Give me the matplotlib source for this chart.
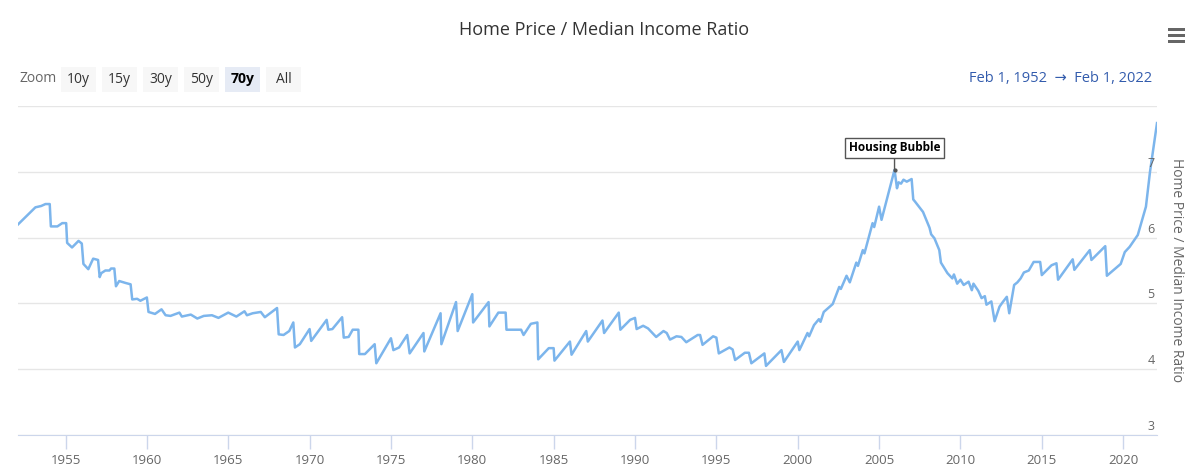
import matplotlib.pyplot as plt
from matplotlib.patches import Rectangle
from matplotlib.transforms import blended_transform_factory

# Home price / median income ratio
years = [
    1952.08, 1953.15, 1953.5, 1953.77, 1954.03, 1954.1, 1954.5, 1954.8, 1955.04, 1955.1,
    1955.4, 1955.8, 1956.0, 1956.1, 1956.4, 1956.7, 1957.0, 1957.1, 1957.2, 1957.45,
    1957.7, 1957.8, 1958.0, 1958.1, 1958.3, 1958.7, 1959.0, 1959.1, 1959.4, 1959.6,
    1960.0, 1960.1, 1960.5, 1960.9, 1961.15, 1961.45, 1962.0, 1962.15, 1962.7, 1963.1,
    1963.5, 1964.0, 1964.4, 1965.0, 1965.5, 1966.0, 1966.15, 1966.5, 1967.0, 1967.25,
    1968.0, 1968.1, 1968.4, 1968.75, 1969.0, 1969.1, 1969.4, 1970.0, 1970.1, 1971.05,
    1971.15, 1971.4, 1972.0, 1972.1, 1972.4, 1972.65, 1973.0, 1973.05, 1973.4, 1974.0,
    1974.1, 1975.0, 1975.15, 1975.5, 1976.0, 1976.15, 1977.0, 1977.05, 1978.05, 1978.1,
    1979.0, 1979.1, 1980.0, 1980.05, 1981.0, 1981.05, 1981.6, 1982.05, 1982.1, 1983.0,
    1983.15, 1983.6, 1984.0, 1984.05, 1984.7, 1985.0, 1985.05, 1986.0, 1986.1, 1987.0,
    1987.1, 1988.0, 1988.1, 1989.0, 1989.1, 1989.7, 1990.0, 1990.1, 1990.5, 1990.8,
    1991.3, 1991.75, 1991.95, 1992.15, 1992.55, 1992.85, 1993.15, 1993.85, 1994.0, 1994.15,
    1994.8, 1995.0, 1995.15, 1995.8, 1996.0, 1996.15, 1996.75, 1997.0, 1997.15, 1997.95,
    1998.05, 1999.0, 1999.15, 2000.0, 2000.1, 2000.6, 2000.7, 2001.0, 2001.3, 2001.4,
    2001.6, 2002.15, 2002.55, 2002.65, 2003.0, 2003.2, 2003.6, 2003.7, 2004.0, 2004.1,
    2004.6, 2004.7, 2005.0, 2005.15, 2005.95, 2006.1, 2006.2, 2006.35, 2006.5, 2006.7,
    2007.0, 2007.1, 2007.2, 2007.7, 2007.8, 2008.1, 2008.2, 2008.4, 2008.7, 2008.8,
    2009.2, 2009.5, 2009.6, 2009.8, 2010.0, 2010.2, 2010.5, 2010.7, 2010.8, 2011.1,
    2011.3, 2011.5, 2011.6, 2011.9, 2012.1, 2012.4, 2012.6, 2012.85, 2013.0, 2013.3,
    2013.5, 2013.7, 2013.9, 2014.2, 2014.5, 2014.9, 2015.0, 2015.6, 2015.9, 2016.0,
    2016.9, 2017.0, 2017.95, 2018.05, 2018.9, 2019.0, 2019.85, 2020.1, 2020.4, 2020.9,
    2021.4, 2021.65, 2022.08,
]
ratio = [
    6.20, 6.46, 6.48, 6.51, 6.51, 6.17, 6.17, 6.22, 6.22, 5.92,
    5.85, 5.95, 5.91, 5.60, 5.52, 5.68, 5.66, 5.40, 5.46, 5.50,
    5.50, 5.53, 5.53, 5.26, 5.34, 5.31, 5.29, 5.06, 5.07, 5.04,
    5.09, 4.87, 4.84, 4.91, 4.82, 4.81, 4.86, 4.80, 4.83, 4.77,
    4.81, 4.82, 4.78, 4.86, 4.80, 4.88, 4.82, 4.85, 4.87, 4.79,
    4.93, 4.53, 4.52, 4.58, 4.71, 4.33, 4.38, 4.61, 4.43, 4.75,
    4.60, 4.61, 4.79, 4.48, 4.49, 4.60, 4.60, 4.23, 4.23, 4.38,
    4.09, 4.47, 4.29, 4.33, 4.52, 4.24, 4.55, 4.27, 4.85, 4.38,
    5.02, 4.58, 5.14, 4.71, 5.02, 4.65, 4.86, 4.86, 4.60, 4.60,
    4.52, 4.69, 4.71, 4.15, 4.32, 4.32, 4.13, 4.42, 4.22, 4.58,
    4.42, 4.74, 4.55, 4.86, 4.60, 4.75, 4.78, 4.61, 4.66, 4.62,
    4.49, 4.58, 4.55, 4.45, 4.50, 4.49, 4.41, 4.52, 4.52, 4.37,
    4.50, 4.48, 4.24, 4.33, 4.30, 4.14, 4.25, 4.25, 4.09, 4.24,
    4.05, 4.29, 4.11, 4.42, 4.29, 4.55, 4.50, 4.67, 4.76, 4.72,
    4.87, 4.99, 5.25, 5.22, 5.42, 5.32, 5.62, 5.57, 5.81, 5.76,
    6.22, 6.16, 6.47, 6.27, 7.03, 6.75, 6.84, 6.82, 6.88, 6.85,
    6.89, 6.58, 6.55, 6.39, 6.33, 6.15, 6.05, 5.99, 5.81, 5.62,
    5.46, 5.38, 5.44, 5.30, 5.36, 5.28, 5.33, 5.20, 5.30, 5.19,
    5.08, 5.11, 4.98, 5.03, 4.73, 4.95, 5.02, 5.10, 4.85, 5.28,
    5.32, 5.38, 5.47, 5.50, 5.63, 5.63, 5.43, 5.58, 5.61, 5.36,
    5.67, 5.51, 5.81, 5.66, 5.87, 5.42, 5.60, 5.78, 5.86, 6.04,
    6.47, 7.00, 7.74,
]

x_ticks = list(range(1955, 2021, 5))
y_ticks = [3, 4, 5, 6, 7]
y_grid = [3, 4, 5, 6, 7, 8]
zoom_buttons = ["10y", "15y", "30y", "50y", "70y", "All"]
selected_button = "70y"
peak_year, peak_value = 2005.95, 7.03

W, H = 1200, 473
FONT = ["Open Sans", "DejaVu Sans"]
plt.rcParams["font.family"] = FONT


def px(x, y):
    # pixel position (from top-left) -> figure fraction
    return x / W, 1 - y / H


fig = plt.figure(figsize=(W / 100, H / 100), dpi=100)
left, top, right, bottom = 18, 106, 1157, 435
ax = fig.add_axes([left / W, 1 - bottom / H, (right - left) / W, (bottom - top) / H])

ax.plot(years, ratio, color="#7cb5ec", linewidth=1.8, solid_joinstyle="round", zorder=3)
ax.set_xlim(1952.08, 2022.08)
ax.set_ylim(3, 8)

# grid and axes styling
for g in y_grid:
    ax.axhline(g, color="#e6e6e6", linewidth=1, zorder=1)
for s in ["top", "left", "right"]:
    ax.spines[s].set_visible(False)
ax.spines["bottom"].set_color("#ccd6eb")
ax.spines["bottom"].set_zorder(2)
ax.set_xticks(x_ticks)
ax.tick_params(axis="x", direction="out", length=10, width=1, color="#ccd6eb",
               labelcolor="#666666", labelsize=9.5, pad=4)
ax.set_yticks([])

# right-hand y labels sit just above their grid lines
trans = blended_transform_factory(ax.transAxes, ax.transData)
for t in y_ticks:
    ax.text(0.998, t + 0.03, str(t), transform=trans, ha="right", va="bottom",
            fontsize=9, color="#666666")
ax.text(1.017, 0.5, "Home Price / Median Income Ratio", transform=ax.transAxes,
        rotation=270, ha="center", va="center", fontsize=10, color="#666666")

# annotation
ax.annotate("Housing Bubble", xy=(peak_year, peak_value), xytext=(0, 16),
            textcoords="offset points", ha="center", va="center",
            fontsize=8.5, fontweight="bold", color="black",
            bbox=dict(boxstyle="square,pad=0.3", fc="white", ec="#555555", lw=1),
            arrowprops=dict(arrowstyle="-", color="#555555", lw=1, shrinkA=0, shrinkB=0),
            zorder=5)
ax.plot([peak_year], [peak_value], marker="o", markersize=2, color="#555555", zorder=6)

# title
fig.text(*px(604, 30), "Home Price / Median Income Ratio", ha="center", va="center",
         fontsize=13, color="#333333")

# range selector buttons
fig.text(*px(19, 79), "Zoom", ha="left", va="center", fontsize=10, color="#666666")
for i, label in enumerate(zoom_buttons):
    bx = 61 + i * 41
    sel = label == selected_button
    x0, y0 = px(bx, 92)
    fig.add_artist(Rectangle((x0, y0), 35 / W, 25 / H, transform=fig.transFigure,
                             facecolor="#e6ebf5" if sel else "#f7f7f7", edgecolor="none"))
    fig.text(*px(bx + 17.5, 79.5), label, ha="center", va="center", fontsize=10,
             color="black" if sel else "#333333", fontweight="bold" if sel else "normal")

# date range display
fig.text(*px(1152, 79), "Feb 1, 1952  \u2192  Feb 1, 2022", ha="right", va="center",
         fontsize=10.5, color="#335cad")

# hamburger menu icon
for yy in (30, 36, 42):
    x0, y0 = px(1168, yy + 1.5)
    fig.add_artist(Rectangle((x0, y0), 17 / W, 3 / H, transform=fig.transFigure,
                             facecolor="#666666", edgecolor="none"))

fig.savefig("out.png", dpi=100)
